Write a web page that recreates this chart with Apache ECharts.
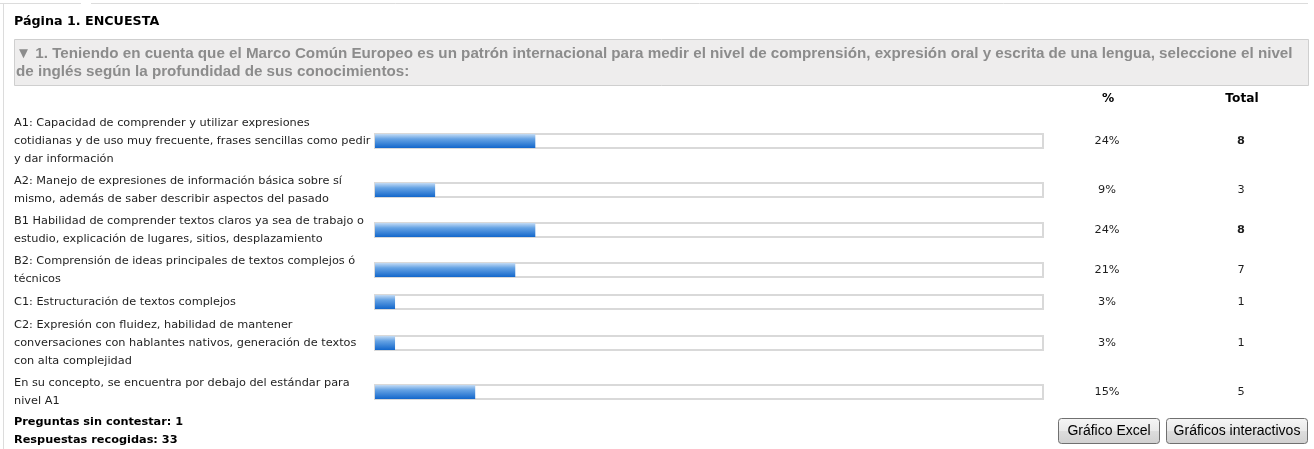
<!DOCTYPE html>
<html>
<head>
<meta charset="utf-8">
<script src="https://cdn.jsdelivr.net/npm/echarts@6/dist/echarts.min.js"></script>
<style>
  html, body { margin: 0; padding: 0; background: #fff; }
  #chart { width: 1314px; height: 449px; }
</style>
</head>
<body>
<div id="chart"></div>
<script>
// datos de la encuesta
const pageTitle = 'Página 1. ENCUESTA'
const questionLines = [
  '▼ 1. Teniendo en cuenta que el Marco Común Europeo es un patrón internacional para medir el nivel de comprensión, expresión oral y escrita de una lengua, seleccione el nivel',
  'de inglés según la profundidad de sus conocimientos:'
]
const categories = [
  'A1: Capacidad de comprender y utilizar expresiones\ncotidianas y de uso muy frecuente, frases sencillas como pedir\ny dar información',
  'A2: Manejo de expresiones de información básica sobre sí\nmismo, además de saber describir aspectos del pasado',
  'B1 Habilidad de comprender textos claros ya sea de trabajo o\nestudio, explicación de lugares, sitios, desplazamiento',
  'B2: Comprensión de ideas principales de textos complejos ó\ntécnicos',
  'C1: Estructuración de textos complejos',
  'C2: Expresión con fluidez, habilidad de mantener\nconversaciones con hablantes nativos, generación de textos\ncon alta complejidad',
  'En su concepto, se encuentra por debajo del estándar para\nnivel A1'
]
const percents = [24, 9, 24, 21, 3, 3, 15]
const totals = [8, 3, 8, 7, 1, 1, 5]
const unanswered = 1
const collected = 33
const buttons = ['Gráfico Excel', 'Gráficos interactivos']

const FONT = '"DejaVu Sans", Verdana, sans-serif'
const FONT2 = '"Liberation Sans", Arial, sans-serif'
const myChart = echarts.init(document.getElementById('chart'), null, {renderer: 'canvas'})

const trackLeft = 375
const trackRight = 1314 - 1043
const maxTotal = Math.max(...totals)

const barColor = new echarts.graphic.LinearGradient(0, 0, 0, 1, [
  {offset: 0, color: '#c3dbf4'},
  {offset: 0.35, color: '#66a3e4'},
  {offset: 1, color: '#1367cb'}
])

let grids = [], xAxes = [], yAxes = [], series = []
let rowTop = 112
categories.forEach((label, i) => {
  const lines = label.split('\n').length
  const h = Math.max(lines * 18, 20) + 4
  const c = rowTop + h / 2
  rowTop += h

  grids.push({left: trackLeft, right: trackRight, top: c - 8, height: 16})
  xAxes.push({type: 'value', gridIndex: i, min: 0, max: 100, show: false})
  // etiqueta a la izquierda
  yAxes.push({
    type: 'category', gridIndex: i, data: [label],
    axisLine: {show: false}, axisTick: {show: false}, splitLine: {show: false},
    axisLabel: {
      align: 'left', margin: trackLeft - 14, fontFamily: FONT, fontSize: 11.3,
      lineHeight: 18, color: '#1e1e1e', padding: [7, 0, 0, 0]
    }
  })
  // columna %
  yAxes.push({
    type: 'category', gridIndex: i, position: 'right', data: [label],
    axisLine: {show: false}, axisTick: {show: false},
    axisLabel: {
      align: 'center', margin: 1107 - 1043, fontFamily: FONT, fontSize: 11.3,
      color: '#1e1e1e', formatter: () => percents[i] + '%', padding: [7, 0, 0, 0]
    }
  })
  // columna Total
  yAxes.push({
    type: 'category', gridIndex: i, position: 'right', data: [label],
    axisLine: {show: false}, axisTick: {show: false},
    axisLabel: {
      align: 'center', margin: 1241 - 1043, fontFamily: FONT, fontSize: 11.3,
      color: '#1e1e1e', fontWeight: totals[i] === maxTotal ? 'bold' : 'normal',
      formatter: () => String(totals[i]), padding: [7, 0, 0, 0]
    }
  })
  series.push({
    type: 'bar', xAxisIndex: i, yAxisIndex: i * 3, data: [percents[i]],
    barWidth: 14, silent: true,
    showBackground: true,
    backgroundStyle: {color: '#fff', borderColor: '#d9d9d9', borderWidth: 2},
    itemStyle: {color: barColor}
  })
})

const summaryTop = rowTop

function btn(x, w, text) {
  return {
    type: 'group', x: x, y: 418,
    children: [
      {type: 'rect', shape: {x: 0.5, y: 0.5, width: w, height: 25, r: 3},
        style: {
          fill: new echarts.graphic.LinearGradient(0, 0, 0, 1, [
            {offset: 0, color: '#f6f6f6'}, {offset: 0.5, color: '#e9e9e9'},
            {offset: 0.51, color: '#dddddd'}, {offset: 1, color: '#d0d0d0'}
          ]),
          stroke: '#707070', lineWidth: 1
        }},
      {type: 'text', x: w / 2 + 0.5, y: 13,
        style: {text: text, font: '14px ' + FONT2, fill: '#000', align: 'center', verticalAlign: 'middle'}}
    ]
  }
}

let option = {
  animation: false,
  grid: grids,
  xAxis: xAxes,
  yAxis: yAxes,
  series: series,
  graphic: [
    // marco
    {type: 'line', shape: {x1: 0, y1: 3.5, x2: 81, y2: 3.5}, style: {stroke: '#dcdcdc', lineWidth: 1}},
    {type: 'line', shape: {x1: 91, y1: 3.5, x2: 1308, y2: 3.5}, style: {stroke: '#dcdcdc', lineWidth: 1}},
    {type: 'line', shape: {x1: 3.5, y1: 3, x2: 3.5, y2: 449}, style: {stroke: '#dcdcdc', lineWidth: 1}},
    {type: 'text', x: 14, y: 22,
      style: {text: pageTitle, font: 'bold 12.7px ' + FONT, fill: '#000', verticalAlign: 'middle'}},
    // caja de la pregunta
    {type: 'rect', shape: {x: 14.5, y: 39.5, width: 1294, height: 46},
      style: {fill: '#eeeded', stroke: '#cfcfcf', lineWidth: 1}},
    {type: 'text', x: 16, y: 54,
      style: {text: questionLines[0], font: 'bold 15.2px ' + FONT2, fill: '#8c8c8c', verticalAlign: 'middle'}},
    {type: 'text', x: 16, y: 72,
      style: {text: questionLines[1], font: 'bold 15.2px ' + FONT2, fill: '#8c8c8c', verticalAlign: 'middle'}},
    // cabeceras de columna
    {type: 'text', x: 1108, y: 99,
      style: {text: '%', font: 'bold 12.2px ' + FONT, fill: '#000', align: 'center', verticalAlign: 'middle'}},
    {type: 'text', x: 1242, y: 99,
      style: {text: 'Total', font: 'bold 12.2px ' + FONT, fill: '#000', align: 'center', verticalAlign: 'middle'}},
    // resumen
    {type: 'text', x: 14, y: summaryTop + 10,
      style: {text: 'Preguntas sin contestar: ' + unanswered, font: 'bold 11.3px ' + FONT, fill: '#000', verticalAlign: 'middle'}},
    {type: 'text', x: 14, y: summaryTop + 28,
      style: {text: 'Respuestas recogidas: ' + collected, font: 'bold 11.3px ' + FONT, fill: '#000', verticalAlign: 'middle'}},
    btn(1058, 101, buttons[0]),
    btn(1166, 141, buttons[1])
  ]
}

option && myChart.setOption(option)
</script>
</body>
</html>
